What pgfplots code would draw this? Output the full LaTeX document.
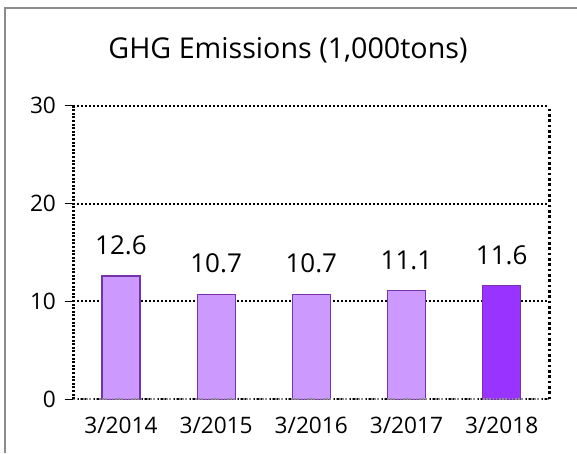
\documentclass[border=0pt]{standalone}
\usepackage{pgfplots}
\pgfplotsset{compat=1.18}
\usepackage{fontspec}
\setmainfont{Open Sans}
\definecolor{lightbar}{RGB}{204,153,255}
\definecolor{darkbar}{RGB}{153,51,255}
\definecolor{barline}{RGB}{120,50,170}
\definecolor{framegray}{RGB}{140,140,140}
\begin{document}
\begin{tikzpicture}[x=0.75pt,y=0.75pt]
\useasboundingbox (0,0) rectangle (577,453);
\fill[white] (0,0) rectangle (577,453);
\draw[framegray, line width=1.5pt] (5,0) -- (5,445) -- (577,445);
\node[font=\fontsize{21.5}{25}\selectfont] at (288,403) {GHG Emissions (1,000tons)};
\begin{axis}[
  at={(77,55)}, anchor=south west,
  scale only axis, width=357pt, height=220pt,
  xmin=0.5, xmax=5.5, ymin=0, ymax=30,
  ytick={0,10,20,30},
  xtick={1,2,3,4,5},
  xticklabels={3/2014,3/2015,3/2016,3/2017,3/2018},
  extra x ticks={0.5,1.5,2.5,3.5,4.5,5.5},
  extra x tick labels={},
  extra x tick style={major tick length=5pt, tick align=outside, tick style={framegray, line width=0.6pt}, grid=none},
  major x tick style={draw=none},
  ytick style={black, line width=0.6pt},
  major tick length=6.5pt,
  tick align=outside, tick pos=left,
  axis line style={draw=none},
  ymajorgrids, grid style={black, line width=1.5pt, dash pattern=on 1.5pt off 1.5pt},
  /pgf/number format/assume math mode=true,
  ticklabel style={font=\fontsize{17}{20}\selectfont},
  yticklabel style={xshift=-3pt},
  xticklabel style={yshift=-3pt},
  ybar, bar width=28.5pt, bar shift=0pt,
  nodes near coords,
  every node near coord/.append style={font=\fontsize{19.5}{22}\selectfont, inner sep=0pt, anchor=south, yshift=15.5pt},
  clip=false,
]
\addplot[fill=lightbar, draw=barline, line width=0.9pt] coordinates {(1,12.6) (2,10.7) (3,10.7) (4,11.1)};
\addplot[fill=darkbar, draw=barline, line width=0.9pt] coordinates {(5,11.6)};
\draw[framegray, line width=1.5pt, dash pattern=on 1.2pt off 1.2pt] (rel axis cs:0,0) -- (rel axis cs:1,0);
\draw[black, line width=1.8pt, dash pattern=on 1.5pt off 1.2pt] (rel axis cs:0,0) -- (rel axis cs:0,1);
\draw[black, line width=1.8pt, dash pattern=on 1.8pt off 2.2pt] (rel axis cs:1,0) -- (rel axis cs:1,1);
\end{axis}
\end{tikzpicture}
\end{document}
